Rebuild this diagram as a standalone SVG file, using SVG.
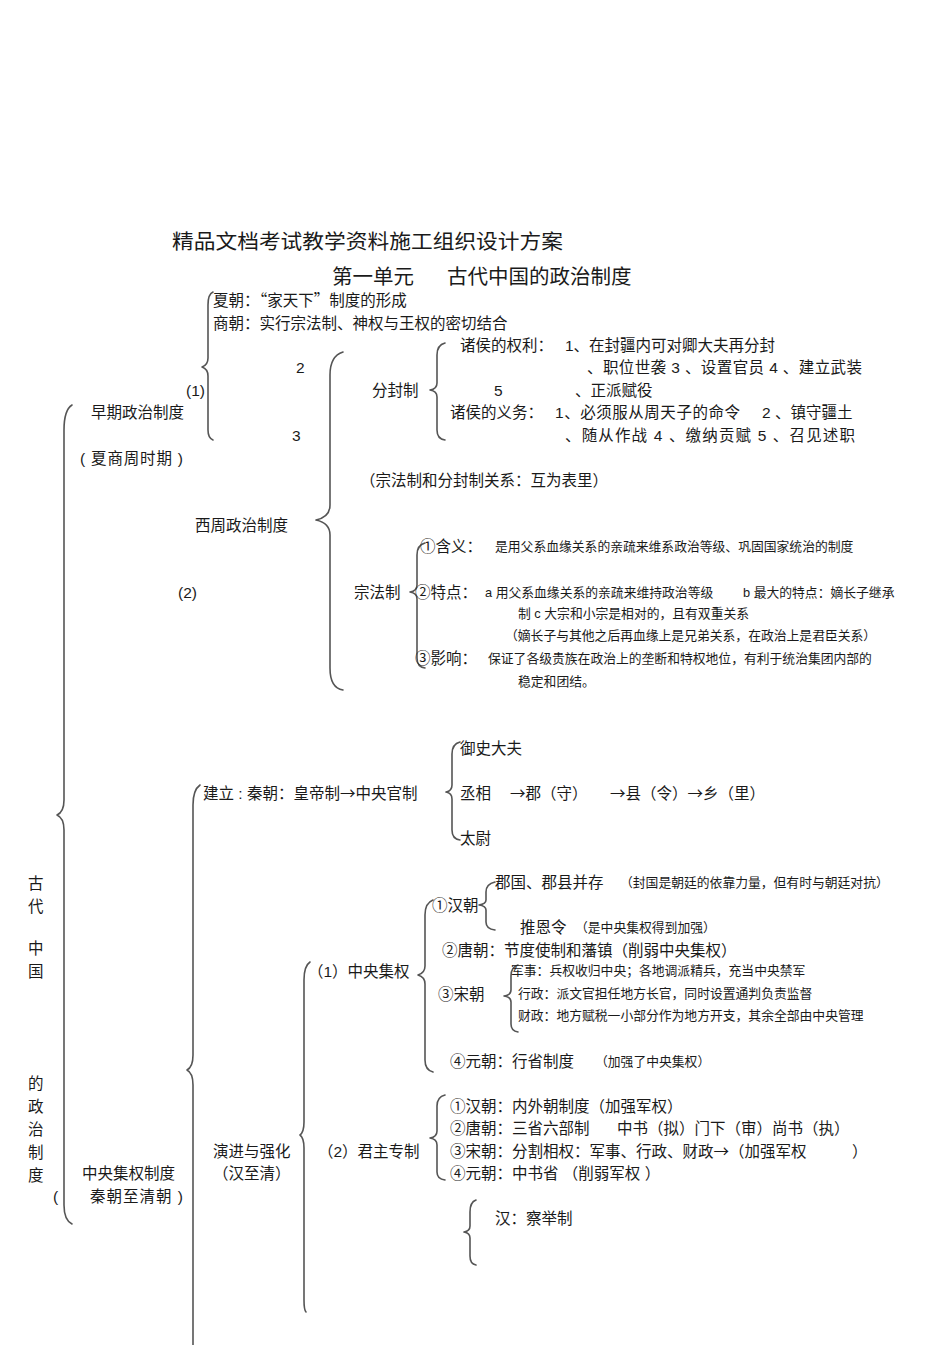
<svg xmlns="http://www.w3.org/2000/svg" width="950" height="1345" viewBox="0 0 950 1345">
<style>
text{font-family:"Liberation Sans","Noto Sans CJK SC",sans-serif;fill:#1a1a1a;font-size:15.5px}
.t1{font-size:20.5px}
.s{font-size:12.8px}
.c{font-family:"Noto Sans CJK SC",sans-serif}
.br{fill:none;stroke:#555;stroke-width:1.6;stroke-linecap:round;stroke-linejoin:round}
</style>
<rect width="950" height="1345" fill="#fff"/>
<g id="connectors">
<path class="br" d="M72,405 Q64,410 64,430 L64,800 Q64,812 57,815 Q64,818 64,830 L64,1205 Q64,1220 72,1224"/>
<path class="br" d="M213,292 Q208,294 208,305 L208,358 Q208,365 202,367 Q208,369 208,376 L208,430 Q208,438 213,440"/>
<path class="br" d="M343,352 Q330,356 330,375 L330,505 Q330,517 316,520 Q330,523 330,535 L330,668 Q330,688 343,690"/>
<path class="br" d="M445,343 Q437,345 437,355 L437,383 Q437,389 430,390 Q437,391 437,397 L437,430 Q437,439 445,440"/>
<path class="br" d="M425,543 Q417,545 417,555 L417,585 Q417,591 410,592 Q417,593 417,599 L417,658 Q417,667 425,668"/>
<path class="br" d="M200,785 Q193,790 193,805 L193,1055 Q193,1067 187,1070 Q193,1073 193,1085 L193,1345"/>
<path class="br" d="M460,742 Q452,744 452,754 L452,785 Q452,791 446,792 Q452,793 452,799 L452,830 Q452,839 460,840"/>
<path class="br" d="M495,882 Q486,884 486,892 L486,900 Q486,904 479,905 Q486,906 486,910 L486,922 Q486,929 495,930"/>
<path class="br" d="M433,900 Q425,903 425,915 L425,966 Q425,973 418,975 Q425,977 425,984 L425,1060 Q425,1070 433,1072"/>
<path class="br" d="M518,965 Q511,967 511,976 L511,990 Q511,995 504,996 Q511,997 511,1002 L511,1024 Q511,1031 518,1032"/>
<path class="br" d="M310,962 Q304,966 304,980 L304,1122 Q304,1132 300,1135 Q304,1138 304,1148 L304,1300 Q304,1310 306,1312"/>
<path class="br" d="M445,1095 Q437,1097 437,1106 L437,1131 Q437,1137 430,1138 Q437,1139 437,1145 L437,1172 Q437,1179 445,1180"/>
<path class="br" d="M476,1200 Q470,1202 470,1212 L470,1226 Q470,1231 464,1232 Q470,1233 470,1238 L470,1256 Q470,1264 476,1265"/>
</g>
<g id="title">
<text class="t1" x="172" y="249" textLength="391" lengthAdjust="spacingAndGlyphs">精品文档考试教学资料施工组织设计方案</text>
<text class="t1" x="332" y="284">第一单元</text>
<text class="t1" x="447" y="284">古代中国的政治制度</text>
</g>
<g id="root">
<text x="28" y="889">古</text>
<text x="28" y="912">代</text>
<text x="28" y="954">中</text>
<text x="28" y="977">国</text>
<text x="28" y="1089">的</text>
<text x="28" y="1112">政</text>
<text x="28" y="1135">治</text>
<text x="28" y="1158">制</text>
<text x="28" y="1181">度</text>
</g>
<g id="early">
<text x="91" y="418">早期政治制度</text>
<text x="80" y="464" textLength="103">( 夏商周时期 )</text>
<text x="186" y="396">(1)</text>
<text x="213" y="306">夏朝：<tspan class="c">“</tspan>家天下<tspan class="c">”</tspan>制度的形成</text>
<text x="213" y="329">商朝：实行宗法制、神权与王权的密切结合</text>
</g>
<g id="xizhou">
<text x="195" y="531">西周政治制度</text>
<text x="178" y="598">(2)</text>
<text x="296" y="373">2</text>
<text x="292" y="441">3</text>
<text x="360" y="486">（宗法制和分封制关系：互为表里）</text>
</g>
<g id="fenfeng">
<text x="372" y="396">分封制</text>
<text x="460" y="351">诸侯的权利：</text>
<text x="565" y="351">1、在封疆内可对卿大夫再分封</text>
<text x="587" y="373" textLength="275">、职位世袭  3 、设置官员  4 、建立武装</text>
<text x="494" y="396">5</text>
<text x="575" y="396">、正派赋役</text>
<text x="450" y="418">诸侯的义务：</text>
<text x="555" y="418" textLength="185">1、必须服从周天子的命令</text>
<text x="762" y="418">2 、镇守疆土</text>
<text x="565" y="441" textLength="290">、随从作战  4 、缴纳贡赋  5 、召见述职</text>
</g>
<g id="zongfa">
<text x="354" y="598">宗法制</text>
<text x="420" y="552"><tspan class="c">①</tspan>含义：</text>
<text class="s" x="495" y="551">是用父系血缘关系的亲疏来维系政治等级、巩固国家统治的制度</text>
<text x="415" y="598"><tspan class="c">②</tspan>特点：</text>
<text class="s" x="485" y="597">a 用父系血缘关系的亲疏来维持政治等级</text>
<text class="s" x="743" y="597">b  最大的特点：嫡长子继承</text>
<text class="s" x="518" y="618">制 c  大宗和小宗是相对的，且有双重关系</text>
<text class="s" x="505" y="640">（嫡长子与其他之后再血缘上是兄弟关系，在政治上是君臣关系）</text>
<text x="415" y="664"><tspan class="c">③</tspan>影响：</text>
<text class="s" x="488" y="663">保证了各级贵族在政治上的垄断和特权地位，有利于统治集团内部的</text>
<text class="s" x="518" y="686">稳定和团结。</text>
</g>
<g id="central">
<text x="82" y="1179">中央集权制度</text>
<text x="53" y="1202">(</text>
<text x="90" y="1202" textLength="93">秦朝至清朝 )</text>
</g>
<g id="qin">
<text x="203" y="799">建立 : 秦朝：皇帝制<tspan class="c">→</tspan>中央官制</text>
<text x="460" y="754">御史大夫</text>
<text x="460" y="799">丞相</text>
<text x="510" y="799"><tspan class="c">→</tspan>郡（守）</text>
<text x="610" y="799"><tspan class="c">→</tspan>县（令）<tspan class="c">→</tspan>乡（里）</text>
<text x="460" y="844">太尉</text>
</g>
<g id="evolve">
<text x="213" y="1157">演进与强化</text>
<text x="213" y="1179">（汉至清）</text>
</g>
<g id="jiquan">
<text x="308" y="977">（1）中央集权</text>
<text x="432" y="911"><tspan class="c">①</tspan>汉朝</text>
<text x="495" y="888">郡国、郡县并存</text>
<text class="s" x="620" y="887">（封国是朝廷的依靠力量，但有时与朝廷对抗）</text>
<text x="520" y="933">推恩令</text>
<text class="s" x="575" y="932">（是中央集权得到加强）</text>
<text x="442" y="956"><tspan class="c">②</tspan>唐朝：节度使制和藩镇（削弱中央集权）</text>
<text x="438" y="1000"><tspan class="c">③</tspan>宋朝</text>
<text class="s" x="511" y="975">军事：兵权收归中央；各地调派精兵，充当中央禁军</text>
<text class="s" x="518" y="998">行政：派文官担任地方长官，同时设置通判负责监督</text>
<text class="s" x="518" y="1020">财政：地方赋税一小部分作为地方开支，其余全部由中央管理</text>
<text x="450" y="1067"><tspan class="c">④</tspan>元朝：行省制度</text>
<text class="s" x="595" y="1066">（加强了中央集权）</text>
</g>
<g id="zhuanzhi">
<text x="318" y="1157">（2）君主专制</text>
<text x="450" y="1112"><tspan class="c">①</tspan>汉朝：内外朝制度（加强军权）</text>
<text x="450" y="1134"><tspan class="c">②</tspan>唐朝：三省六部制</text>
<text x="617" y="1134">中书（拟）门下（审）尚书（执）</text>
<text x="450" y="1157"><tspan class="c">③</tspan>宋朝：分割相权：军事、行政、财政<tspan class="c">→</tspan>（加强军权</text>
<text x="852" y="1157">）</text>
<text x="450" y="1179"><tspan class="c">④</tspan>元朝：中书省 （削弱军权 ）</text>
</g>
<g id="xuanguan">
<text x="495" y="1224">汉：察举制</text>
</g>
</svg>
